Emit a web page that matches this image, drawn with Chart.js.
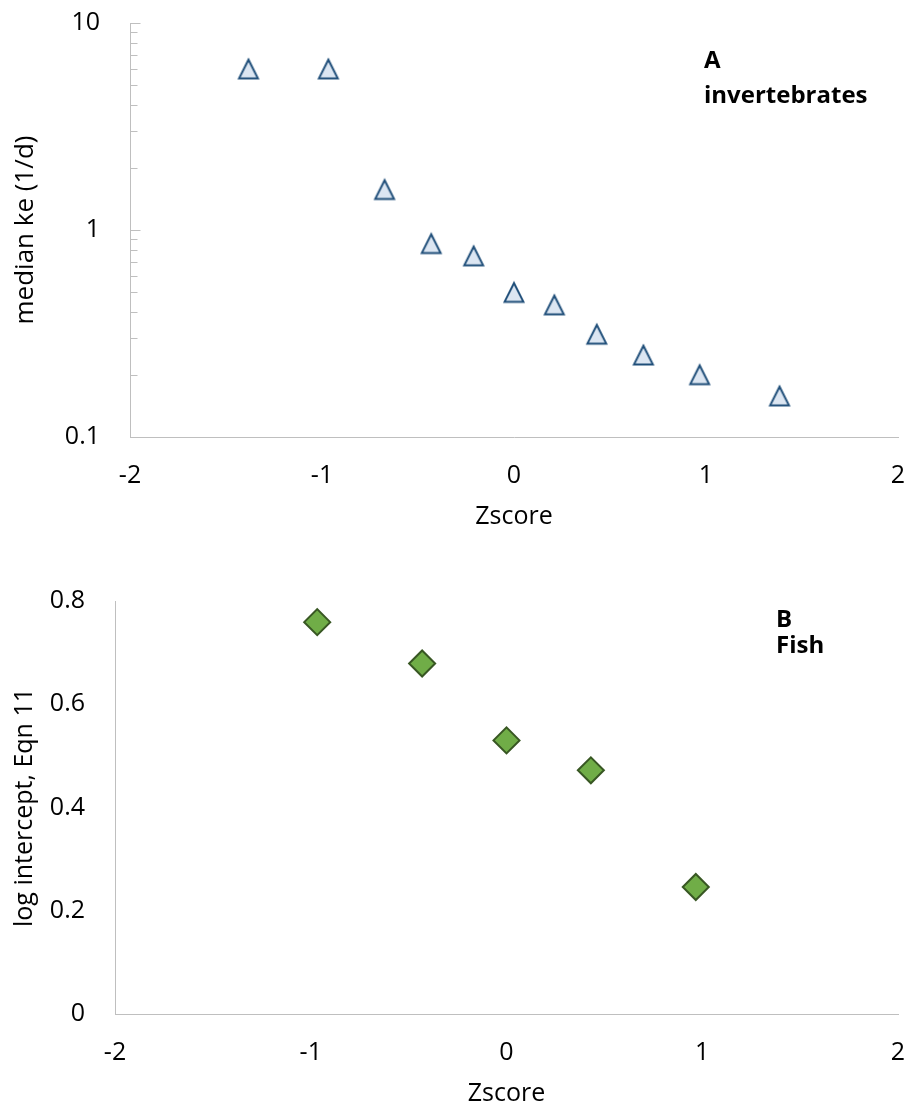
<!DOCTYPE html>
<html><head><meta charset="utf-8">
<script src="https://cdn.jsdelivr.net/npm/chart.js@4.4.1/dist/chart.umd.min.js"></script>
<style>
html,body{margin:0;padding:0;background:#fff}
#wrap{position:relative;width:908px;height:1112px;overflow:hidden}
canvas{position:absolute;left:0}
</style></head><body>
<div id="wrap">
<canvas id="cA" width="908" height="556" style="top:0"></canvas>
<canvas id="cB" width="908" height="556" style="top:556px"></canvas>
</div>
<script>
// ---- data ----
const zA = [-1.383, -0.967, -0.674, -0.431, -0.210, 0, 0.210, 0.431, 0.674, 0.967, 1.383];
const keA = [6.0, 6.0, 1.57, 0.86, 0.75, 0.50, 0.435, 0.314, 0.249, 0.200, 0.158];
const zB = [-0.967, -0.431, 0, 0.431, 0.967];
const interceptB = [0.759, 0.679, 0.530, 0.472, 0.246];
const xTicks = [-2, -1, 0, 1, 2];
const yTicksA = [0.1, 1, 10];
const yTicksB = [0, 0.2, 0.4, 0.6, 0.8];
const labelA = ['A', 'invertebrates'];
const labelB = ['B', 'Fish'];
const xTitle = 'Zscore';
const yTitleA = 'median ke (1/d)';
const yTitleB = 'log intercept, Eqn 11';

// ---- styles ----
const FONT = "'Open Sans', 'DejaVu Sans', sans-serif";
const AXIS = '#bfbfbf';

function makeTri() {
  const c = document.createElement('canvas');
  c.width = 26; c.height = 26;
  const g = c.getContext('2d');
  g.beginPath();
  g.moveTo(13, 3.8);
  g.lineTo(22.4, 22.4);
  g.lineTo(3.6, 22.4);
  g.closePath();
  g.fillStyle = '#dce6f2';
  g.fill();
  g.lineWidth = 2;
  g.lineJoin = 'miter';
  g.strokeStyle = '#1f4e79';
  g.stroke();
  return c;
}

const cornerText = {
  id: 'cornerText',
  afterDraw(chart, args, opts) {
    const ctx = chart.ctx;
    ctx.save();
    ctx.fillStyle = '#000';
    ctx.font = 'bold ' + opts.size + 'px ' + FONT;
    ctx.textAlign = 'left';
    ctx.textBaseline = 'alphabetic';
    opts.lines.forEach((t, i) => ctx.fillText(t, opts.x, opts.y[i]));
    ctx.restore();
  }
};

const minorTicks = {
  id: 'minorTicks',
  afterDraw(chart, args, opts) {
    if (!opts.on) return;
    const ys = chart.scales.y;
    const x0 = Math.round(chart.chartArea.left) + 0.5;
    const ctx = chart.ctx;
    ctx.save();
    ctx.strokeStyle = AXIS;
    ctx.lineWidth = 1;
    ctx.beginPath();
    for (let d = 0; d < yTicksA.length - 1; d++) {
      const base = yTicksA[d];
      for (let k = 2; k <= 9; k++) {
        const py = Math.round(ys.getPixelForValue(base * k)) + 0.5;
        ctx.moveTo(x0, py); ctx.lineTo(x0 + 7, py);
      }
    }
    yTicksA.forEach(v => {
      const py = Math.round(ys.getPixelForValue(v)) + 0.5;
      ctx.moveTo(x0, py); ctx.lineTo(x0 + 10, py);
    });
    ctx.stroke();
    ctx.restore();
  }
};

function axisCommon(tickLen, extra) {
  return Object.assign({
    grid: { display: false, drawTicks: true, tickLength: tickLen },
    border: { display: true, color: AXIS, width: 1 },
  }, extra);
}

function makeChart(id, cfg) {
  const tickFont = { family: FONT, size: 25 };
  return new Chart(document.getElementById(id), {
    type: 'scatter',
    data: { datasets: [cfg.dataset] },
    options: {
      responsive: false,
      animation: false,
      events: [],
      layout: { padding: cfg.padding, autoPadding: false },
      plugins: {
        legend: { display: false },
        tooltip: { enabled: false },
        cornerText: cfg.corner,
        minorTicks: { on: !!cfg.minor }
      },
      scales: {
        x: axisCommon(24, {
          type: 'linear', min: -2, max: 2,
          afterBuildTicks: s => { s.ticks = xTicks.map(v => ({ value: v })); },
          afterFit: s => { s.height = cfg.xHeight; },
          ticks: { padding: 0, color: '#000', font: tickFont, maxRotation: 0, callback: v => String(v) },
          title: { display: true, text: xTitle, color: '#000', font: tickFont, padding: 0 }
        }),
        y: axisCommon(30, Object.assign({
          afterBuildTicks: s => { s.ticks = cfg.yTicks.map(v => ({ value: v })); },
          afterFit: s => { s.width = cfg.yWidth; },
          ticks: { padding: 0, color: '#000', font: tickFont, callback: v => String(v) },
          title: { display: true, text: cfg.yTitle, color: '#000', font: { family: FONT, size: cfg.yTitleSize }, padding: { top: 10 } }
        }, cfg.yScale))
      }
    },
    plugins: [cornerText, minorTicks]
  });
}

makeChart('cA', {
  dataset: {
    data: zA.map((x, i) => ({ x: x, y: keA[i] })),
    pointStyle: makeTri(),
    pointRadius: 12,
    backgroundColor: '#dce6f2',
    borderColor: '#1f4e79'
  },
  padding: { top: 23, right: 10, bottom: 24, left: 0 },
  xHeight: 95,
  yWidth: 130,
  yTicks: yTicksA,
  yTitle: yTitleA,
  yTitleSize: 26,
  yScale: { type: 'logarithmic', min: 0.1, max: 10 },
  minor: true,
  corner: { lines: labelA, x: 704, y: [68, 103], size: 24 }
});

makeChart('cB', {
  dataset: {
    data: zB.map((x, i) => ({ x: x, y: interceptB[i] })),
    pointStyle: 'rectRot',
    pointRadius: 13,
    borderWidth: 2,
    backgroundColor: '#70ad47',
    borderColor: '#385723'
  },
  padding: { top: 45, right: 10, bottom: 3.5, left: 0 },
  xHeight: 94.5,
  yWidth: 115,
  yTicks: yTicksB,
  yTitle: yTitleB,
  yTitleSize: 25,
  yScale: { type: 'linear', min: 0, max: 0.8 },
  minor: false,
  corner: { lines: labelB, x: 776, y: [71, 97], size: 24 }
});
</script>
</body></html>
